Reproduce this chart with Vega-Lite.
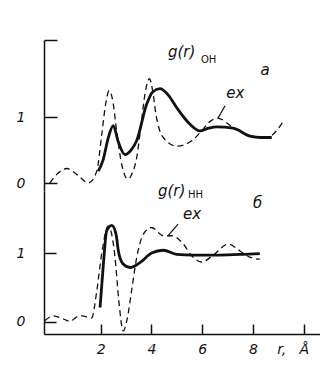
{
  "$schema": "https://vega.github.io/schema/vega-lite/v6.json",
  "background": "white",
  "padding": {"left": 16, "top": 39, "right": 0, "bottom": 0},
  "spacing": 0,
  "bounds": "flush",
  "config": {
    "view": {"stroke": null},
    "font": "DejaVu Sans",
    "axis": {"grid": false, "domainColor": "#111", "tickColor": "#111", "labelColor": "#111", "labelFont": "DejaVu Sans", "labelFontStyle": "italic", "labelFontSize": 14, "domainWidth": 1.5, "tickWidth": 1.5, "title": null, "format": "d"}
  },
  "datasets": {
    "ohEx": [
      {"r": 0.0, "g": 0.0}, {"r": 0.3, "g": 0.14}, {"r": 0.67, "g": 0.22}, {"r": 1.1, "g": 0.12}, {"r": 1.52, "g": 0.0},
      {"r": 1.85, "g": 0.18}, {"r": 2.05, "g": 0.75}, {"r": 2.2, "g": 1.2}, {"r": 2.34, "g": 1.4}, {"r": 2.5, "g": 1.2},
      {"r": 2.63, "g": 0.79}, {"r": 2.85, "g": 0.25}, {"r": 3.07, "g": 0.06}, {"r": 3.25, "g": 0.15}, {"r": 3.42, "g": 0.38},
      {"r": 3.6, "g": 0.9}, {"r": 3.75, "g": 1.35}, {"r": 3.92, "g": 1.58}, {"r": 4.05, "g": 1.4}, {"r": 4.18, "g": 1.04},
      {"r": 4.47, "g": 0.69}, {"r": 5.0, "g": 0.56}, {"r": 5.59, "g": 0.64}, {"r": 5.98, "g": 0.79}, {"r": 6.3, "g": 0.93},
      {"r": 6.63, "g": 0.98}, {"r": 7.22, "g": 0.84}, {"r": 8.01, "g": 0.71}, {"r": 8.54, "g": 0.69}, {"r": 9.19, "g": 0.93}
    ],
    "ohCalc": [
      {"r": 1.91, "g": 0.18}, {"r": 2.1, "g": 0.35}, {"r": 2.3, "g": 0.68}, {"r": 2.5, "g": 0.87}, {"r": 2.7, "g": 0.62},
      {"r": 2.96, "g": 0.43}, {"r": 3.2, "g": 0.5}, {"r": 3.42, "g": 0.64}, {"r": 3.81, "g": 1.19}, {"r": 4.05, "g": 1.38},
      {"r": 4.34, "g": 1.43}, {"r": 4.65, "g": 1.34}, {"r": 5.0, "g": 1.14}, {"r": 5.52, "g": 0.89}, {"r": 5.91, "g": 0.79},
      {"r": 6.25, "g": 0.83}, {"r": 6.57, "g": 0.85}, {"r": 7.22, "g": 0.83}, {"r": 7.88, "g": 0.71}, {"r": 8.3, "g": 0.69},
      {"r": 8.74, "g": 0.69}
    ],
    "hhEx": [
      {"r": -0.19, "g": 0.02}, {"r": 0.14, "g": 0.09}, {"r": 0.5, "g": 0.05}, {"r": 0.8, "g": 0.01}, {"r": 1.05, "g": 0.07},
      {"r": 1.26, "g": 0.09}, {"r": 1.65, "g": 0.06}, {"r": 1.85, "g": 0.45}, {"r": 2.04, "g": 0.98}, {"r": 2.3, "g": 1.39},
      {"r": 2.45, "g": 1.25}, {"r": 2.57, "g": 0.93}, {"r": 2.72, "g": 0.3}, {"r": 2.89, "g": -0.13}, {"r": 3.05, "g": 0.05},
      {"r": 3.22, "g": 0.45}, {"r": 3.42, "g": 0.93}, {"r": 3.68, "g": 1.27}, {"r": 4.01, "g": 1.37}, {"r": 4.47, "g": 1.25},
      {"r": 4.8, "g": 1.25}, {"r": 5.26, "g": 1.13}, {"r": 5.59, "g": 0.96}, {"r": 5.98, "g": 0.87}, {"r": 6.44, "g": 0.97},
      {"r": 7.03, "g": 1.13}, {"r": 7.49, "g": 1.03}, {"r": 7.88, "g": 0.94}, {"r": 8.27, "g": 0.91}
    ],
    "hhCalc": [
      {"r": 1.98, "g": 0.21}, {"r": 2.11, "g": 0.84}, {"r": 2.24, "g": 1.32}, {"r": 2.44, "g": 1.4}, {"r": 2.61, "g": 1.27},
      {"r": 2.7, "g": 1.03}, {"r": 2.89, "g": 0.84}, {"r": 3.16, "g": 0.79}, {"r": 3.55, "g": 0.86}, {"r": 4.01, "g": 1.0},
      {"r": 4.47, "g": 1.04}, {"r": 5.0, "g": 0.98}, {"r": 5.65, "g": 0.97}, {"r": 6.57, "g": 0.97}, {"r": 7.49, "g": 0.98},
      {"r": 8.27, "g": 0.99}
    ],
    "ohLead": [{"x1": 6.9, "y1": 1.17, "x2": 6.62, "y2": 0.98}],
    "hhLead": [{"x1": 5.05, "y1": 1.42, "x2": 4.65, "y2": 1.25}],
    "ohText": [
      {"r": 4.65, "g": 1.98, "label": "g(r)"},
      {"r": 8.3, "g": 1.72, "label": "а"},
      {"r": 6.95, "g": 1.36, "label": "ex"}
    ],
    "ohSub": [{"r": 5.95, "g": 1.87, "label": "OH"}],
    "hhText": [
      {"r": 4.26, "g": 1.9, "label": "g(r)"},
      {"r": 8.0, "g": 1.73, "label": "б"},
      {"r": 5.25, "g": 1.57, "label": "ex"}
    ],
    "hhSub": [{"r": 5.44, "g": 1.84, "label": "HH"}]
  },
  "vconcat": [
    {
      "width": 276,
      "height": 151,
      "layer": [
        {
          "data": {"name": "ohEx"},
          "mark": {"type": "line", "strokeDash": [6, 4], "strokeWidth": 1.3, "color": "#111", "interpolate": "monotone"},
          "encoding": {
            "x": {"field": "r", "type": "quantitative", "scale": {"domain": [-0.228, 10.64], "nice": false, "zero": false}, "axis": null},
            "y": {"field": "g", "type": "quantitative", "scale": {"domain": [-0.121, 2.167], "nice": false, "zero": false},
                  "axis": {"values": [0, 1, 2.16], "tickSize": -13, "labelPadding": 32, "labelExpr": "datum.value > 1.5 ? '' : datum.label"}}
          }
        },
        {
          "data": {"name": "ohCalc"},
          "mark": {"type": "line", "strokeWidth": 2.8, "color": "#111", "interpolate": "monotone"},
          "encoding": {
            "x": {"field": "r", "type": "quantitative"},
            "y": {"field": "g", "type": "quantitative"}
          }
        },
        {
          "data": {"name": "ohLead"},
          "mark": {"type": "rule", "strokeWidth": 1.2, "color": "#111"},
          "encoding": {
            "x": {"field": "x1", "type": "quantitative"},
            "y": {"field": "y1", "type": "quantitative"},
            "x2": {"field": "x2"},
            "y2": {"field": "y2"}
          }
        },
        {
          "data": {"name": "ohText"},
          "mark": {"type": "text", "align": "left", "baseline": "middle", "font": "DejaVu Sans", "fontStyle": "italic", "fontSize": 15, "color": "#111"},
          "encoding": {
            "x": {"field": "r", "type": "quantitative"},
            "y": {"field": "g", "type": "quantitative"},
            "text": {"field": "label"}
          }
        },
        {
          "data": {"name": "ohSub"},
          "mark": {"type": "text", "align": "left", "baseline": "middle", "font": "DejaVu Sans", "fontSize": 10, "color": "#111"},
          "encoding": {
            "x": {"field": "r", "type": "quantitative"},
            "y": {"field": "g", "type": "quantitative"},
            "text": {"field": "label"}
          }
        }
      ]
    },
    {
      "width": 276,
      "height": 143,
      "layer": [
        {
          "data": {"name": "hhEx"},
          "mark": {"type": "line", "strokeDash": [6, 4], "strokeWidth": 1.3, "color": "#111", "interpolate": "monotone"},
          "encoding": {
            "x": {"field": "r", "type": "quantitative", "scale": {"domain": [-0.228, 10.64], "nice": false, "zero": false},
                  "axis": {"values": [2, 4, 6, 8, 10], "tickSize": -10, "labelPadding": 18, "labelExpr": "datum.value == 10 ? 'r,\u00a0\u00a0\u00a0Å' : datum.label",
                           "labelOffset": {"condition": {"test": "datum.value == 10", "value": -11}, "value": 0}}},
            "y": {"field": "g", "type": "quantitative", "scale": {"domain": [-0.174, 1.899], "nice": false, "zero": false},
                  "axis": {"values": [0, 1], "tickSize": -12, "labelPadding": 31}}
          }
        },
        {
          "data": {"name": "hhCalc"},
          "mark": {"type": "line", "strokeWidth": 2.8, "color": "#111", "interpolate": "monotone"},
          "encoding": {
            "x": {"field": "r", "type": "quantitative"},
            "y": {"field": "g", "type": "quantitative"}
          }
        },
        {
          "data": {"name": "hhLead"},
          "mark": {"type": "rule", "strokeWidth": 1.2, "color": "#111"},
          "encoding": {
            "x": {"field": "x1", "type": "quantitative"},
            "y": {"field": "y1", "type": "quantitative"},
            "x2": {"field": "x2"},
            "y2": {"field": "y2"}
          }
        },
        {
          "data": {"name": "hhText"},
          "mark": {"type": "text", "align": "left", "baseline": "middle", "font": "DejaVu Sans", "fontStyle": "italic", "fontSize": 15, "color": "#111"},
          "encoding": {
            "x": {"field": "r", "type": "quantitative"},
            "y": {"field": "g", "type": "quantitative"},
            "text": {"field": "label"}
          }
        },
        {
          "data": {"name": "hhSub"},
          "mark": {"type": "text", "align": "left", "baseline": "middle", "font": "DejaVu Sans", "fontSize": 10, "color": "#111"},
          "encoding": {
            "x": {"field": "r", "type": "quantitative"},
            "y": {"field": "g", "type": "quantitative"},
            "text": {"field": "label"}
          }
        }
      ]
    }
  ]
}
